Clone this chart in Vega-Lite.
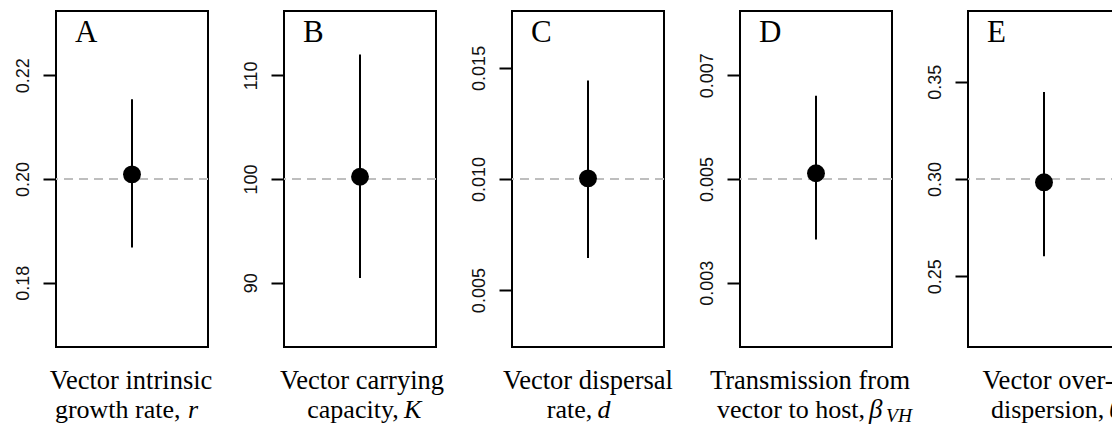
{
  "$schema": "https://vega.github.io/schema/vega-lite/v6.json",
  "padding": {"left": 13, "top": 10, "right": 0, "bottom": 0},
  "autosize": {"type": "pad"},
  "background": "white",
  "datasets": {
    "estimates": [
      {"panel": "A", "truth": 0.20, "est": 0.2009, "lo": 0.1868, "hi": 0.2154},
      {"panel": "B", "truth": 100, "est": 100.22, "lo": 90.45, "hi": 112.0},
      {"panel": "C", "truth": 0.010, "est": 0.01003, "lo": 0.006446, "hi": 0.014427},
      {"panel": "D", "truth": 0.005, "est": 0.00511, "lo": 0.003832, "hi": 0.006607},
      {"panel": "E", "truth": 0.30, "est": 0.2983, "lo": 0.2603, "hi": 0.3448}
    ]
  },
  "config": {
    "view": {"stroke": "black", "strokeWidth": 2},
    "axis": {
      "domain": false, "grid": false, "ticks": true,
      "tickSize": 13, "tickWidth": 2, "tickColor": "black",
      "labelAngle": -90, "labelAlign": "center", "labelBaseline": "bottom",
      "labelPadding": 11, "labelFont": "Liberation Sans", "labelFontSize": 18,
      "labelColor": "#111", "labelFlush": false, "labelOverlap": false, "labelBound": false
    },
    "title": {
      "anchor": "start", "frame": "group", "orient": "top",
      "font": "Liberation Serif", "fontSize": 31, "fontWeight": "normal",
      "color": "black", "baseline": "alphabetic", "offset": 0, "dx": 19, "dy": 41.7
    },
    "text": {"font": "Liberation Serif", "fontSize": 26, "color": "black", "baseline": "alphabetic"}
  },
  "spacing": 76,
  "bounds": "flush",
  "hconcat": [
    {
      "width": 152, "height": 336,
      "title": "A",
      "data": {"name": "estimates"},
      "transform": [{"filter": "datum.panel === 'A'"}],
      "layer": [
        {"mark": {"type": "rule", "color": "#bebebe", "strokeWidth": 2, "strokeDash": [9, 6]},
         "encoding": {"y": {"field": "truth", "type": "quantitative", "scale": {"domain": [0.1676, 0.2324], "nice": false, "zero": false}, "axis": {"values": [0.18, 0.20, 0.22], "format": ".2f", "title": null}}}},
        {"mark": {"type": "rule", "color": "black", "strokeWidth": 2},
         "encoding": {"x": {"field": "panel", "type": "nominal", "scale": {"type": "point"}, "axis": null},
                      "y": {"field": "lo", "type": "quantitative", "scale": {"domain": [0.1676, 0.2324], "nice": false, "zero": false}, "axis": {"values": [0.18, 0.20, 0.22], "format": ".2f", "title": null}},
                      "y2": {"field": "hi"}}},
        {"mark": {"type": "point", "filled": true, "opacity": 1, "color": "black", "size": 320},
         "encoding": {"x": {"field": "panel", "type": "nominal", "scale": {"type": "point"}, "axis": null},
                      "y": {"field": "est", "type": "quantitative", "scale": {"domain": [0.1676, 0.2324], "nice": false, "zero": false}, "axis": {"values": [0.18, 0.20, 0.22], "format": ".2f", "title": null}}}},
        {"mark": {"type": "text", "align": "center", "fontSize": 26.5, "dx": -1, "dy": 42.3},
         "encoding": {"x": {"field": "panel", "type": "nominal", "scale": {"type": "point"}, "axis": null}, "y": {"value": "height"}, "text": {"value": "Vector intrinsic"}}},
        {"mark": {"type": "text", "align": "right", "dx": 48.5, "dy": 70.7},
         "encoding": {"x": {"field": "panel", "type": "nominal", "scale": {"type": "point"}, "axis": null}, "y": {"value": "height"}, "text": {"value": "growth rate,"}}},
        {"mark": {"type": "text", "align": "left", "fontStyle": "italic", "dx": 56, "dy": 70.7},
         "encoding": {"x": {"field": "panel", "type": "nominal", "scale": {"type": "point"}, "axis": null}, "y": {"value": "height"}, "text": {"value": "r"}}}
      ]
    },
    {
      "width": 152, "height": 336,
      "title": "B",
      "data": {"name": "estimates"},
      "transform": [{"filter": "datum.panel === 'B'"}],
      "layer": [
        {"mark": {"type": "rule", "color": "#bebebe", "strokeWidth": 2, "strokeDash": [9, 6]},
         "encoding": {"y": {"field": "truth", "type": "quantitative", "scale": {"domain": [83.8, 116.2], "nice": false, "zero": false}, "axis": {"values": [90, 100, 110], "format": "d", "title": null}}}},
        {"mark": {"type": "rule", "color": "black", "strokeWidth": 2},
         "encoding": {"x": {"field": "panel", "type": "nominal", "scale": {"type": "point"}, "axis": null},
                      "y": {"field": "lo", "type": "quantitative", "scale": {"domain": [83.8, 116.2], "nice": false, "zero": false}, "axis": {"values": [90, 100, 110], "format": "d", "title": null}},
                      "y2": {"field": "hi"}}},
        {"mark": {"type": "point", "filled": true, "opacity": 1, "color": "black", "size": 320},
         "encoding": {"x": {"field": "panel", "type": "nominal", "scale": {"type": "point"}, "axis": null},
                      "y": {"field": "est", "type": "quantitative", "scale": {"domain": [83.8, 116.2], "nice": false, "zero": false}, "axis": {"values": [90, 100, 110], "format": "d", "title": null}}}},
        {"mark": {"type": "text", "align": "center", "fontSize": 26.5, "dx": 2, "dy": 42.3},
         "encoding": {"x": {"field": "panel", "type": "nominal", "scale": {"type": "point"}, "axis": null}, "y": {"value": "height"}, "text": {"value": "Vector carrying"}}},
        {"mark": {"type": "text", "align": "right", "dx": 38.7, "dy": 70.7},
         "encoding": {"x": {"field": "panel", "type": "nominal", "scale": {"type": "point"}, "axis": null}, "y": {"value": "height"}, "text": {"value": "capacity,"}}},
        {"mark": {"type": "text", "align": "left", "fontStyle": "italic", "dx": 44, "dy": 70.7},
         "encoding": {"x": {"field": "panel", "type": "nominal", "scale": {"type": "point"}, "axis": null}, "y": {"value": "height"}, "text": {"value": "K"}}}
      ]
    },
    {
      "width": 152, "height": 336,
      "title": "C",
      "data": {"name": "estimates"},
      "transform": [{"filter": "datum.panel === 'C'"}],
      "layer": [
        {"mark": {"type": "rule", "color": "#bebebe", "strokeWidth": 2, "strokeDash": [9, 6]},
         "encoding": {"y": {"field": "truth", "type": "quantitative", "scale": {"domain": [0.00244, 0.01756], "nice": false, "zero": false}, "axis": {"values": [0.005, 0.010, 0.015], "format": ".3f", "title": null}}}},
        {"mark": {"type": "rule", "color": "black", "strokeWidth": 2},
         "encoding": {"x": {"field": "panel", "type": "nominal", "scale": {"type": "point"}, "axis": null},
                      "y": {"field": "lo", "type": "quantitative", "scale": {"domain": [0.00244, 0.01756], "nice": false, "zero": false}, "axis": {"values": [0.005, 0.010, 0.015], "format": ".3f", "title": null}},
                      "y2": {"field": "hi"}}},
        {"mark": {"type": "point", "filled": true, "opacity": 1, "color": "black", "size": 320},
         "encoding": {"x": {"field": "panel", "type": "nominal", "scale": {"type": "point"}, "axis": null},
                      "y": {"field": "est", "type": "quantitative", "scale": {"domain": [0.00244, 0.01756], "nice": false, "zero": false}, "axis": {"values": [0.005, 0.010, 0.015], "format": ".3f", "title": null}}}},
        {"mark": {"type": "text", "align": "center", "fontSize": 26.5, "dx": 0, "dy": 42.3},
         "encoding": {"x": {"field": "panel", "type": "nominal", "scale": {"type": "point"}, "axis": null}, "y": {"value": "height"}, "text": {"value": "Vector dispersal"}}},
        {"mark": {"type": "text", "align": "right", "dx": 4.3, "dy": 70.7},
         "encoding": {"x": {"field": "panel", "type": "nominal", "scale": {"type": "point"}, "axis": null}, "y": {"value": "height"}, "text": {"value": "rate,"}}},
        {"mark": {"type": "text", "align": "left", "fontStyle": "italic", "dx": 9.5, "dy": 70.7},
         "encoding": {"x": {"field": "panel", "type": "nominal", "scale": {"type": "point"}, "axis": null}, "y": {"value": "height"}, "text": {"value": "d"}}}
      ]
    },
    {
      "width": 152, "height": 336,
      "title": "D",
      "data": {"name": "estimates"},
      "transform": [{"filter": "datum.panel === 'D'"}],
      "layer": [
        {"mark": {"type": "rule", "color": "#bebebe", "strokeWidth": 2, "strokeDash": [9, 6]},
         "encoding": {"y": {"field": "truth", "type": "quantitative", "scale": {"domain": [0.00176, 0.00824], "nice": false, "zero": false}, "axis": {"values": [0.003, 0.005, 0.007], "format": ".3f", "title": null}}}},
        {"mark": {"type": "rule", "color": "black", "strokeWidth": 2},
         "encoding": {"x": {"field": "panel", "type": "nominal", "scale": {"type": "point"}, "axis": null},
                      "y": {"field": "lo", "type": "quantitative", "scale": {"domain": [0.00176, 0.00824], "nice": false, "zero": false}, "axis": {"values": [0.003, 0.005, 0.007], "format": ".3f", "title": null}},
                      "y2": {"field": "hi"}}},
        {"mark": {"type": "point", "filled": true, "opacity": 1, "color": "black", "size": 320},
         "encoding": {"x": {"field": "panel", "type": "nominal", "scale": {"type": "point"}, "axis": null},
                      "y": {"field": "est", "type": "quantitative", "scale": {"domain": [0.00176, 0.00824], "nice": false, "zero": false}, "axis": {"values": [0.003, 0.005, 0.007], "format": ".3f", "title": null}}}},
        {"mark": {"type": "text", "align": "center", "fontSize": 26.5, "dx": -6, "dy": 42.3},
         "encoding": {"x": {"field": "panel", "type": "nominal", "scale": {"type": "point"}, "axis": null}, "y": {"value": "height"}, "text": {"value": "Transmission from"}}},
        {"mark": {"type": "text", "align": "right", "dx": 49, "dy": 70.7},
         "encoding": {"x": {"field": "panel", "type": "nominal", "scale": {"type": "point"}, "axis": null}, "y": {"value": "height"}, "text": {"value": "vector to host,"}}},
        {"mark": {"type": "text", "align": "left", "fontStyle": "italic", "fontSize": 27, "dx": 53, "dy": 70.7},
         "encoding": {"x": {"field": "panel", "type": "nominal", "scale": {"type": "point"}, "axis": null}, "y": {"value": "height"}, "text": {"value": "β"}}},
        {"mark": {"type": "text", "align": "left", "fontStyle": "italic", "fontSize": 19.5, "dx": 70, "dy": 75},
         "encoding": {"x": {"field": "panel", "type": "nominal", "scale": {"type": "point"}, "axis": null}, "y": {"value": "height"}, "text": {"value": "VH"}}}
      ]
    },
    {
      "width": 152, "height": 336,
      "title": "E",
      "data": {"name": "estimates"},
      "transform": [{"filter": "datum.panel === 'E'"}],
      "layer": [
        {"mark": {"type": "rule", "color": "#bebebe", "strokeWidth": 2, "strokeDash": [9, 6]},
         "encoding": {"y": {"field": "truth", "type": "quantitative", "scale": {"domain": [0.2136, 0.3864], "nice": false, "zero": false}, "axis": {"values": [0.25, 0.30, 0.35], "format": ".2f", "title": null}}}},
        {"mark": {"type": "rule", "color": "black", "strokeWidth": 2},
         "encoding": {"x": {"field": "panel", "type": "nominal", "scale": {"type": "point"}, "axis": null},
                      "y": {"field": "lo", "type": "quantitative", "scale": {"domain": [0.2136, 0.3864], "nice": false, "zero": false}, "axis": {"values": [0.25, 0.30, 0.35], "format": ".2f", "title": null}},
                      "y2": {"field": "hi"}}},
        {"mark": {"type": "point", "filled": true, "opacity": 1, "color": "black", "size": 320},
         "encoding": {"x": {"field": "panel", "type": "nominal", "scale": {"type": "point"}, "axis": null},
                      "y": {"field": "est", "type": "quantitative", "scale": {"domain": [0.2136, 0.3864], "nice": false, "zero": false}, "axis": {"values": [0.25, 0.30, 0.35], "format": ".2f", "title": null}}}},
        {"mark": {"type": "text", "align": "center", "fontSize": 26.5, "dx": 4, "dy": 42.3},
         "encoding": {"x": {"field": "panel", "type": "nominal", "scale": {"type": "point"}, "axis": null}, "y": {"value": "height"}, "text": {"value": "Vector over-"}}},
        {"mark": {"type": "text", "align": "right", "dx": 60.3, "dy": 70.7},
         "encoding": {"x": {"field": "panel", "type": "nominal", "scale": {"type": "point"}, "axis": null}, "y": {"value": "height"}, "text": {"value": "dispersion,"}}},
        {"mark": {"type": "text", "align": "left", "fontStyle": "italic", "dx": 65, "dy": 70.7},
         "encoding": {"x": {"field": "panel", "type": "nominal", "scale": {"type": "point"}, "axis": null}, "y": {"value": "height"}, "text": {"value": "θ"}}}
      ]
    }
  ]
}
